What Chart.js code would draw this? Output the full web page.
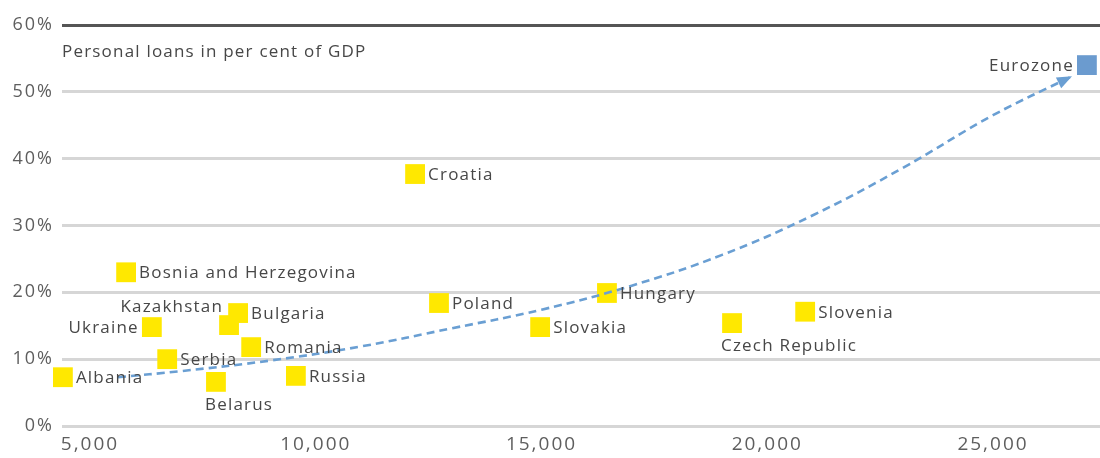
<!DOCTYPE html>
<html>
<head>
<meta charset="utf-8">
<script src="https://cdn.jsdelivr.net/npm/chart.js@4.4.0/dist/chart.umd.min.js"></script>
<style>
  html, body { margin: 0; padding: 0; background: #fff; }
  #wrap { width: 1100px; height: 458px; position: relative; }
</style>
</head>
<body>
<div id="wrap"><canvas id="chart"></canvas></div>
<script>
// GDP per capita (x) vs personal loans in % of GDP (y)
const countries = ["Albania", "Bosnia and Herzegovina", "Ukraine", "Serbia", "Belarus", "Kazakhstan",
  "Bulgaria", "Romania", "Russia", "Croatia", "Poland", "Slovakia", "Hungary", "Czech Republic", "Slovenia"];
const gdpPerCapita = [4400, 5800, 6370, 6710, 7790, 8080, 8280, 8570, 9560, 12200, 12730, 14970, 16450, 19220, 20840];
const personalLoans = [7.3, 23.0, 14.8, 10.0, 6.6, 15.1, 16.9, 11.8, 7.5, 37.7, 18.4, 14.8, 19.9, 15.4, 17.1];

const euroName = ["Eurozone"];
const euroGdp = [27080];
const euroLoans = [54.0];

// hand drawn catch-up arrow
const trendX = [5620, 7000, 9000, 11000, 13000, 15000, 17000, 19000, 21000, 23000, 25000, 26710];
const trendY = [7.3, 8.2, 9.8, 11.9, 14.6, 17.4, 21.0, 25.6, 31.5, 38.6, 46.5, 52.2];

const xTicks = [5000, 10000, 15000, 20000, 25000];
const yTicks = [0, 10, 20, 30, 40, 50, 60];

// where the name goes next to the square (default: right)
const labelPlace = {
  "Ukraine": "left",
  "Kazakhstan": "aboveLeft",
  "Belarus": "below",
  "Czech Republic": "below",
  "Eurozone": "left"
};

const FONT = "'Open Sans', sans-serif";
const TXT = "#474747";

// wider letter spacing, closer to the original geometric face
const spacing = {
  id: "spacing",
  beforeDraw(chart) { chart.ctx.letterSpacing = "2px"; }
};

const pointLabels = {
  id: "pointLabels",
  afterDatasetsDraw(chart) {
    const ctx = chart.ctx;
    ctx.save();
    ctx.font = "17px " + FONT;
    ctx.letterSpacing = "1.2px";
    ctx.fillStyle = TXT;
    ctx.textBaseline = "middle";
    chart.data.datasets.forEach((ds, i) => {
      if (!ds.names) return;
      chart.getDatasetMeta(i).data.forEach((pt, j) => {
        const name = ds.names[j];
        const place = labelPlace[name] || "right";
        let x = pt.x, y = pt.y + 1;
        if (place === "right") { ctx.textAlign = "left"; x += 13; }
        else if (place === "left") { ctx.textAlign = "right"; x -= 13; }
        else if (place === "below") { ctx.textAlign = "left"; x -= 11; y += 22; }
        else if (place === "aboveLeft") { ctx.textAlign = "right"; x -= 6; y -= 19; }
        ctx.fillText(name, x, y);
      });
    });
    // header inside the plot
    ctx.textAlign = "left";
    ctx.fillText("Personal loans in per cent of GDP", chart.chartArea.left, 52);
    ctx.restore();
  }
};

const arrowHead = {
  id: "arrowHead",
  afterDatasetsDraw(chart) {
    const pts = chart.getDatasetMeta(0).data;
    const a = pts[pts.length - 2], b = pts[pts.length - 1];
    const ang = Math.atan2(b.y - a.y, b.x - a.x);
    const ctx = chart.ctx;
    ctx.save();
    ctx.translate(b.x, b.y);
    ctx.rotate(ang);
    ctx.fillStyle = "#6a9fd3";
    ctx.beginPath();
    ctx.moveTo(2, 0);
    ctx.lineTo(-13, -6);
    ctx.lineTo(-13, 6);
    ctx.closePath();
    ctx.fill();
    ctx.restore();
  }
};

new Chart(document.getElementById("chart"), {
  type: "scatter",
  data: {
    datasets: [
      {
        type: "line",
        data: trendX.map((x, i) => ({ x: x, y: trendY[i] })),
        borderColor: "#6a9fd3",
        borderWidth: 2.6,
        borderDash: [8, 5],
        tension: 0.4,
        pointRadius: 0,
        fill: false
      },
      {
        names: countries,
        data: gdpPerCapita.map((x, i) => ({ x: x, y: personalLoans[i] })),
        pointStyle: "rect",
        pointRadius: 14,
        backgroundColor: "#ffe800",
        borderWidth: 0,
        clip: false
      },
      {
        names: euroName,
        data: euroGdp.map((x, i) => ({ x: x, y: euroLoans[i] })),
        pointStyle: "rect",
        pointRadius: 14,
        backgroundColor: "#6b9bcf",
        borderWidth: 0,
        clip: false
      }
    ]
  },
  options: {
    responsive: true,
    maintainAspectRatio: false,
    animation: false,
    layout: { autoPadding: false, padding: { top: 25, right: 0, left: 0, bottom: 0 } },
    plugins: {
      legend: { display: false },
      tooltip: { enabled: false }
    },
    scales: {
      x: {
        type: "linear",
        min: 4380,
        max: 27370,
        afterBuildTicks: (s) => { s.ticks = xTicks.map((v) => ({ value: v })); },
        afterFit: (s) => { s.height = 32; s.paddingLeft = 0; s.paddingRight = 0; },
        grid: { display: false, drawTicks: false },
        border: { display: false },
        ticks: {
          padding: 7,
          color: "#5e5e5e",
          font: { family: FONT, size: 19 },
          maxRotation: 0,
          callback: (v) => v.toLocaleString("en-US")
        }
      },
      y: {
        min: 0,
        max: 60,
        afterBuildTicks: (s) => { s.ticks = yTicks.map((v) => ({ value: v })); },
        afterFit: (s) => { s.width = 62; },
        grid: {
          drawTicks: false,
          color: (c) => (c.tick && c.tick.value === 60 ? "#555" : "#d6d6d6"),
          lineWidth: 3
        },
        border: { display: false },
        ticks: {
          padding: 8,
          color: "#5e5e5e",
          font: { family: FONT, size: 18 },
          callback: (v) => v + "%"
        }
      }
    }
  },
  plugins: [spacing, pointLabels, arrowHead]
});
</script>
</body>
</html>
